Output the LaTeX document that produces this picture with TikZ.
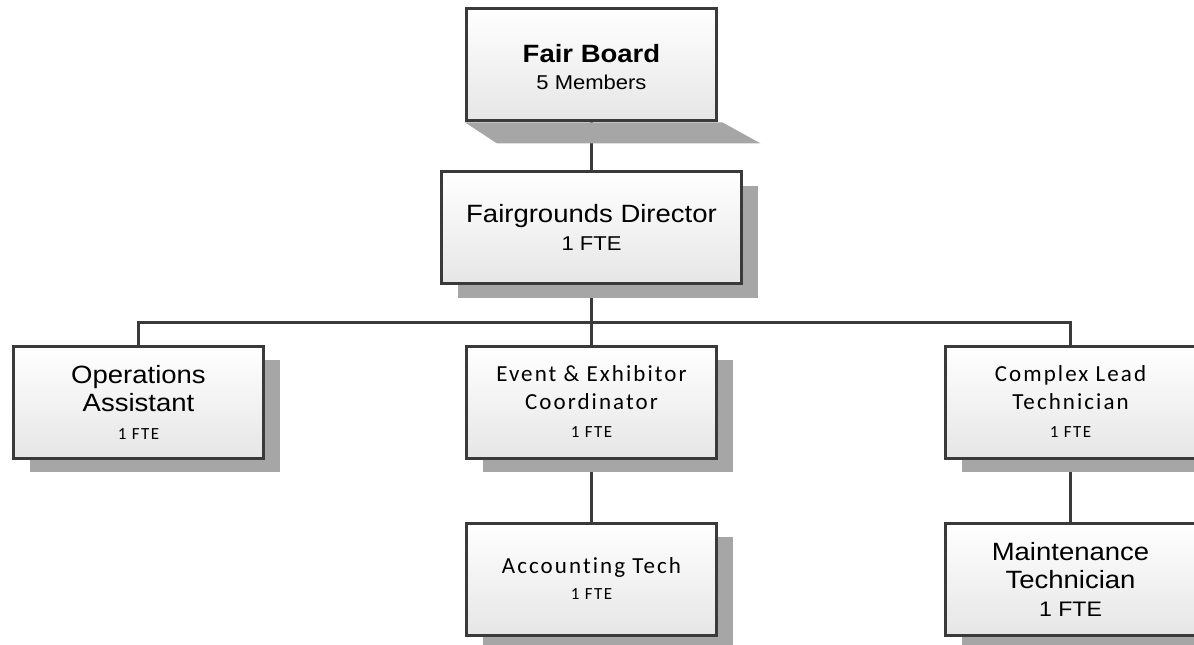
\documentclass[tikz,border=0pt]{standalone}
\usepackage{fontspec}
\usepackage{tikz}
\usetikzlibrary{positioning, shadows, backgrounds}
\setmainfont{Liberation Sans}
\newfontfamily\arialf{Liberation Sans}[FakeStretch=1.1]
\newfontfamily\calf{Carlito}[LetterSpace=9, Ligatures=CommonOff]
\definecolor{boxEdge}{HTML}{3A3A3A}
\definecolor{boxLow}{HTML}{E6E6E6}
\definecolor{shadeGrey}{HTML}{A6A6A6}
\newcommand{\fte}{{\calf\fontsize{17}{20}\selectfont 1 FTE}}
\newcommand{\afte}{{\fontsize{20}{20}\selectfont 1 FTE}}

\begin{document}
\begin{tikzpicture}[x=1pt, y=-1pt, orgbox/.style={draw=boxEdge, line width=3pt, top color=white, bottom color=boxLow, minimum width=250pt, minimum height=112pt, inner sep=0pt, align=center, font=\arialf\fontsize{25}{28}\selectfont}, role/.style={orgbox, general shadow={fill=shadeGrey, shadow xshift=16pt, shadow yshift=-14pt}}, cal/.style={font=\calf\fontsize{23}{28}\selectfont}, conn/.style={draw=boxEdge, line width=3pt}]
\useasboundingbox (0,0) rectangle (1194,645);
\node[orgbox, line width=3.5pt, font=\arialf\fontsize{25}{27}\selectfont] (board) at (591.5,64.5) {\rule{0pt}{24pt}\textbf{Fair Board}\\{\fontsize{20}{20}\selectfont 5 Members}};
\node[role, minimum width=300pt, below=48pt of board] (dir) {Fairgrounds Director\\\afte};
\coordinate[below=37pt of dir] (bus);
\node[role] (ops) at (138.5,402) {Operations\\Assistant\\\fte};
\node[role, cal] (event) at (591.5,402) {Event \& Exhibitor\\Coordinator\\\fte};
\node[role, cal] (cplx) at (1070.5,402) {Complex Lead\\Technician\\\fte};
\node[role, below=62pt of event, font=\calf\fontsize{23}{26}\selectfont] (acct) {Accounting Tech\\\fte};
\node[role, below=62pt of cplx] (maint) {Maintenance\\Technician\\{\fontsize{21}{20}\selectfont 1 FTE}};
\begin{scope}[on background layer]
\draw[conn] (board) -- (dir);
\draw[conn] (dir) -- (bus);
\draw[conn] (ops.north) |- (bus) -| (cplx.north);
\draw[conn] (bus) -- (event);
\draw[conn] (event) -- (acct);
\draw[conn] (cplx) -- (maint);
\fill[shadeGrey] (board.south west) -- ([xshift=4pt]board.south east) -- ([shift={(42,21)}]board.south east) -- ([shift={(32,21)}]board.south west) -- cycle;
\end{scope}
\end{tikzpicture}
\end{document}
